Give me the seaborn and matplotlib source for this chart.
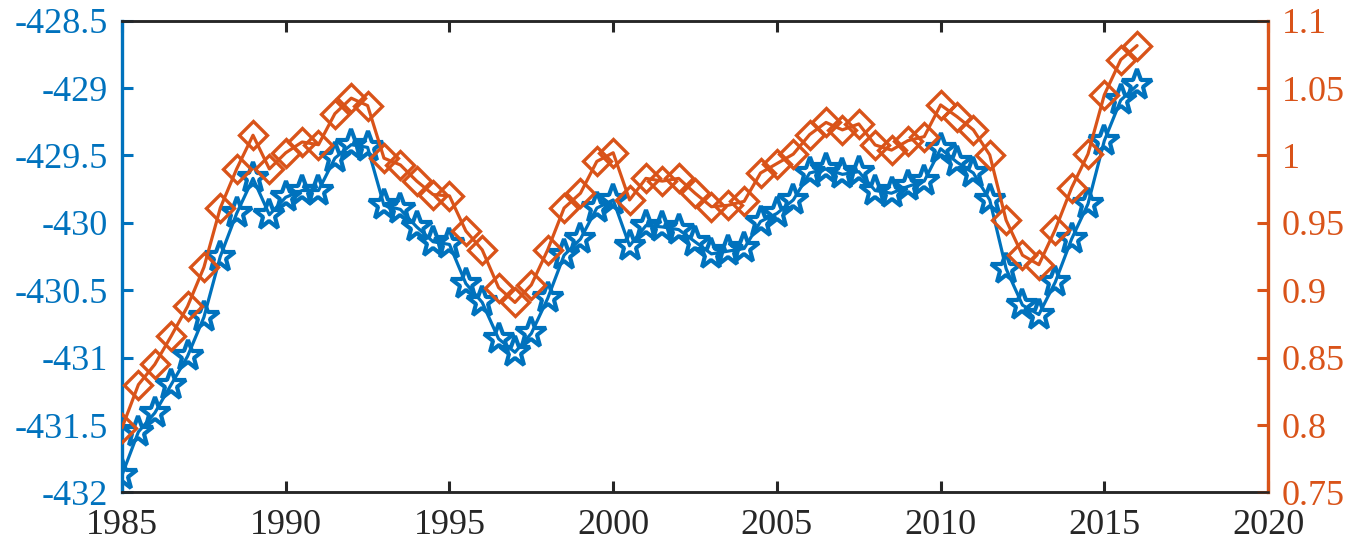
import numpy as np
import pandas as pd
import matplotlib
matplotlib.use("Agg")
import matplotlib.pyplot as plt
import seaborn as sns
from matplotlib.ticker import FuncFormatter

years = [1985.0 + 0.5 * i for i in range(63)]

left_values = [
    -431.87, -431.55, -431.41, -431.20, -430.99, -430.70, -430.25, -429.93,
    -429.67, -429.94, -429.81, -429.76, -429.76, -429.52, -429.42, -429.44,
    -429.87, -429.90, -430.03, -430.14, -430.16, -430.45, -430.59, -430.86,
    -430.96, -430.82, -430.56, -430.24, -430.12, -429.89, -429.83, -430.17,
    -430.02, -430.03, -430.05, -430.14, -430.23, -430.21, -430.19, -429.99,
    -429.93, -429.83, -429.63, -429.60, -429.64, -429.62, -429.76, -429.78,
    -429.73, -429.69, -429.45, -429.55, -429.63, -429.83, -430.34, -430.61,
    -430.68, -430.44, -430.12, -429.86, -429.39, -429.09, -428.98,
]

right_values = [
    0.798, 0.830, 0.845, 0.866, 0.888, 0.917, 0.961, 0.990,
    1.015, 0.990, 1.002, 1.010, 1.008, 1.031, 1.0425, 1.037,
    0.998, 0.993, 0.981, 0.971, 0.970, 0.944, 0.930, 0.902,
    0.891, 0.904, 0.930, 0.961, 0.972, 0.9956, 1.002, 0.967,
    0.983, 0.981, 0.983, 0.972, 0.962, 0.963, 0.966, 0.987,
    0.994, 1.001, 1.0155, 1.0245, 1.019, 1.0234, 1.0078, 1.004,
    1.011, 1.014, 1.0375, 1.0288, 1.019, 1.0004, 0.952, 0.926,
    0.919, 0.945, 0.976, 1.001, 1.045, 1.071, 1.0815,
]

x_ticks = [1985, 1990, 1995, 2000, 2005, 2010, 2015, 2020]
left_ticks = [-432, -431.5, -431, -430.5, -430, -429.5, -429, -428.5]
right_ticks = [0.75, 0.8, 0.85, 0.9, 0.95, 1.0, 1.05, 1.1]

df = pd.DataFrame({"year": years, "left": left_values, "right": right_values})

sns.set_theme(style="white")
plt.rcParams["font.family"] = ["Liberation Serif", "DejaVu Serif"]

BLUE = "#0072BD"
ORANGE = "#D95319"
DARK = "#262626"

fig = plt.figure(figsize=(13.5, 5.44), dpi=100)
ax = fig.add_axes([0.0904, 0.0947, 0.8489, 0.8673])
ax2 = ax.twinx()

sns.lineplot(data=df, x="year", y="left", ax=ax, color=BLUE, linewidth=2.3,
             marker="*", markersize=23, markerfacecolor="none",
             markeredgecolor=BLUE, markeredgewidth=3.0, zorder=3)
sns.lineplot(data=df, x="year", y="right", ax=ax2, color=ORANGE, linewidth=2.3,
             marker="D", markersize=14.5, markerfacecolor="none",
             markeredgecolor=ORANGE, markeredgewidth=2.4, zorder=3)

ax.set_xlim(1985, 2020)
ax.set_ylim(-432, -428.5)
ax2.set_ylim(0.75, 1.1)
ax.set_xticks(x_ticks)
ax.set_yticks(left_ticks)
ax2.set_yticks(right_ticks)
fmt = FuncFormatter(lambda v, p: "%g" % v)
ax.yaxis.set_major_formatter(fmt)
ax2.yaxis.set_major_formatter(fmt)
ax.set_xlabel("")
ax.set_ylabel("")
ax2.set_ylabel("")

fs = 26
ax.tick_params(axis="x", direction="in", length=8, width=2.2, colors=DARK,
               labelsize=fs, pad=12, top=True, bottom=True)
ax.tick_params(axis="y", direction="in", length=8, width=2.2, colors=BLUE,
               labelsize=fs, pad=10, left=True, right=False)
ax2.tick_params(axis="y", direction="in", length=8, width=2.2, colors=ORANGE,
                labelsize=fs, pad=10, right=True, left=False)

for a in (ax, ax2):
    for s in a.spines.values():
        s.set_linewidth(1.8)
    a.spines["top"].set_color(DARK)
    a.spines["bottom"].set_color(DARK)
    a.spines["left"].set_color(BLUE)
    a.spines["right"].set_color(ORANGE)
ax2.spines["left"].set_visible(False)
ax.spines["right"].set_visible(False)
ax.spines["left"].set_linewidth(2.4)
ax2.spines["right"].set_linewidth(2.4)

fig.savefig("out.png", dpi=100)
